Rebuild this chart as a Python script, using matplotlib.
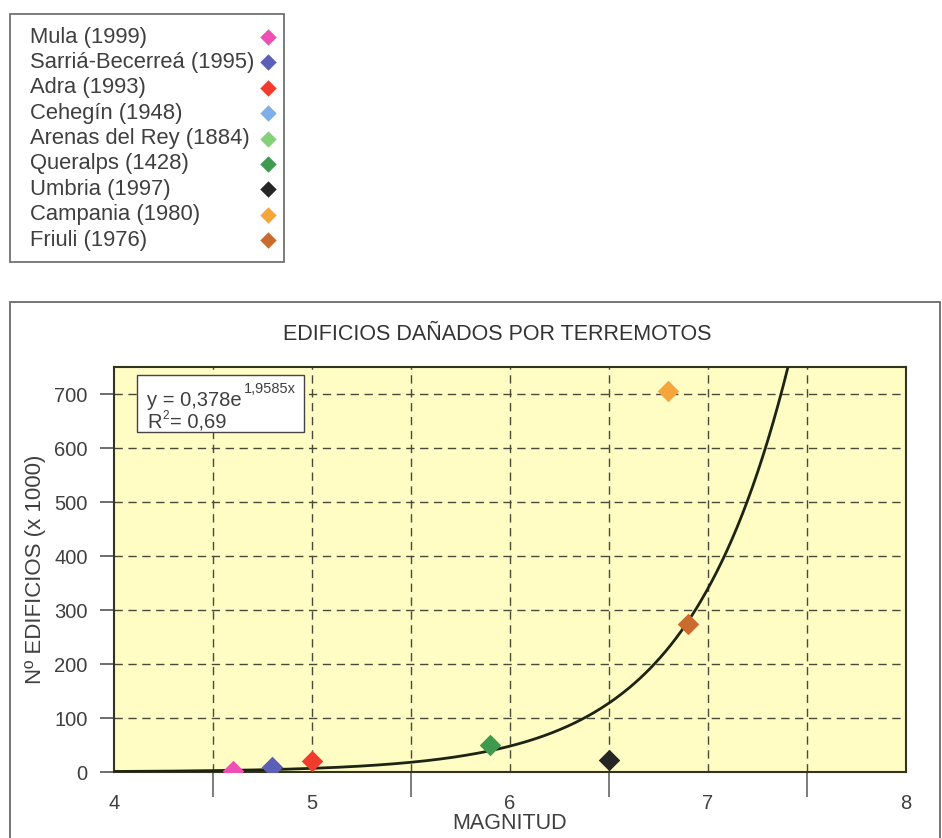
import numpy as np
import matplotlib
matplotlib.use("Agg")
import matplotlib.pyplot as plt
from matplotlib.patches import Rectangle

plt.rcParams['font.family'] = ['Liberation Sans', 'DejaVu Sans']

# ---- data ----
names = ["Mula (1999)", "Sarriá-Becerreá (1995)", "Adra (1993)", "Cehegín (1948)",
         "Arenas del Rey (1884)", "Queralps (1428)", "Umbria (1997)",
         "Campania (1980)", "Friuli (1976)"]
magnitudes = [4.6, 4.8, 5.0, None, None, 5.9, 6.5, 6.8, 6.9]
buildings_k = [2, 9, 20, None, None, 50, 22, 706, 275]
colors = ["#EE4FB4", "#5A5FB8", "#F23B2C", "#7FAEE8", "#86D07A",
          "#3E9A4C", "#262626", "#F6A53A", "#C96A2E"]

fit_a = 0.378
fit_b = 1.9585
eq_main = "y = 0,378e"
eq_exp = "1,9585x"
r2_text = "0,69"

x_ticks = [4, 5, 6, 7, 8]
y_ticks = [0, 100, 200, 300, 400, 500, 600, 700]

W, H = 942, 838
fig = plt.figure(figsize=(W / 100, H / 100), dpi=100)
fig.patch.set_facecolor("white")

def fx(px):
    return px / W

def fy(py):
    return 1 - py / H

TXT = "#3f3f3f"

# chart frame
fig.patches.append(Rectangle((fx(10), fy(850)), fx(930), (850 - 302) / H,
                             transform=fig.transFigure, fill=False,
                             edgecolor="#6a6a6a", linewidth=1.3, zorder=0))

# legend frame + entries (text left, marker right)
fig.patches.append(Rectangle((fx(10), fy(262)), fx(274), (262 - 14) / H,
                             transform=fig.transFigure, fill=False,
                             edgecolor="#666666", linewidth=1.2, zorder=0))
leg_ax = fig.add_axes([0, 0, 1, 1], facecolor="none")
leg_ax.set_xlim(0, W)
leg_ax.set_ylim(H, 0)
leg_ax.axis("off")
row0, row_step = 37, 25.4
for i, (n, c) in enumerate(zip(names, colors)):
    yy = row0 + i * row_step
    leg_ax.text(30, yy, n, fontsize=15.8, color=TXT, va="center", ha="left")
    leg_ax.scatter([268], [yy], marker="D", s=70, color=c, linewidths=0)

left, right, top, bottom = 114, 906, 367, 772
ax = fig.add_axes([fx(left), fy(bottom), fx(right - left), (bottom - top) / H])
ax.set_facecolor("#FFFDC4")

ax.set_xlim(4, 8)
ax.set_ylim(0, 750)

# grid
ax.set_xticks(x_ticks)
ax.set_xticks(np.arange(4.5, 8, 0.5), minor=True)
ax.set_yticks(y_ticks)
for xv in np.arange(4.5, 8, 0.5):
    ax.axvline(xv, color="#4a4a3a", linestyle=(0, (6, 4)), linewidth=1.0, zorder=1)
for yv in y_ticks[1:]:
    ax.axhline(yv, color="#4a4a3a", linestyle=(0, (6, 4)), linewidth=1.0, zorder=1)

# trendline
xs = np.linspace(4, 7.45, 400)
ax.plot(xs, fit_a * np.exp(fit_b * xs) / 1000, color="#1c2414", linewidth=2.0, zorder=3)

for m, b, c in zip(magnitudes, buildings_k, colors):
    if m is not None:
        ax.scatter([m], [b], marker="D", s=120, color=c, zorder=4, linewidths=0)

for s in ax.spines.values():
    s.set_color("#33331f")
    s.set_linewidth(1.5)

ax.tick_params(axis="y", which="major", direction="out", length=10, width=1.2,
               color="#555555", labelsize=14.5, labelcolor=TXT, pad=9)
ax.tick_params(axis="x", which="major", direction="out", length=0,
               labelsize=14.5, labelcolor=TXT, pad=16)
ax.tick_params(axis="x", which="minor", direction="out", length=18, width=1.2,
               color="#666666")
ax.set_xticklabels([str(v) for v in x_ticks])

ax.set_xlabel("MAGNITUD", fontsize=15.5, color=TXT, labelpad=0)
ax.set_ylabel("Nº EDIFICIOS (x 1000)", fontsize=16, color=TXT, labelpad=6)

fig.text(fx(497), fy(335), "EDIFICIOS DAÑADOS POR TERREMOTOS", ha="center", va="center",
         fontsize=15.5, color="#333333")

# equation box
bx0, bx1, by0, by1 = 137, 304, 375, 432
ax.add_patch(Rectangle(((bx0 - left) / (right - left), (bottom - by1) / (bottom - top)),
                       (bx1 - bx0) / (right - left), (by1 - by0) / (bottom - top),
                       transform=ax.transAxes, facecolor="white", edgecolor="#444444",
                       linewidth=1.0, zorder=5))
renderer = fig.canvas.get_renderer()
t1 = fig.text(fx(147), fy(406), eq_main, fontsize=14.5, color=TXT,
              va="baseline", ha="left", zorder=6)
bb = t1.get_window_extent(renderer=renderer)
fig.text(bb.x1 / W + 2 / W, fy(393), eq_exp, fontsize=10.5, color=TXT,
         va="baseline", ha="left", zorder=6)
t3 = fig.text(fx(147), fy(428), "R", fontsize=14.5, color=TXT, va="baseline", ha="left", zorder=6)
bb3 = t3.get_window_extent(renderer=renderer)
fig.text(bb3.x1 / W + 1 / W, fy(419), "2", fontsize=8.5, color=TXT,
         va="baseline", ha="left", zorder=6)
fig.text(bb3.x1 / W + 9 / W, fy(428), "= " + r2_text, fontsize=14.5, color=TXT,
         va="baseline", ha="left", zorder=6)

fig.savefig("out.png", dpi=100)
